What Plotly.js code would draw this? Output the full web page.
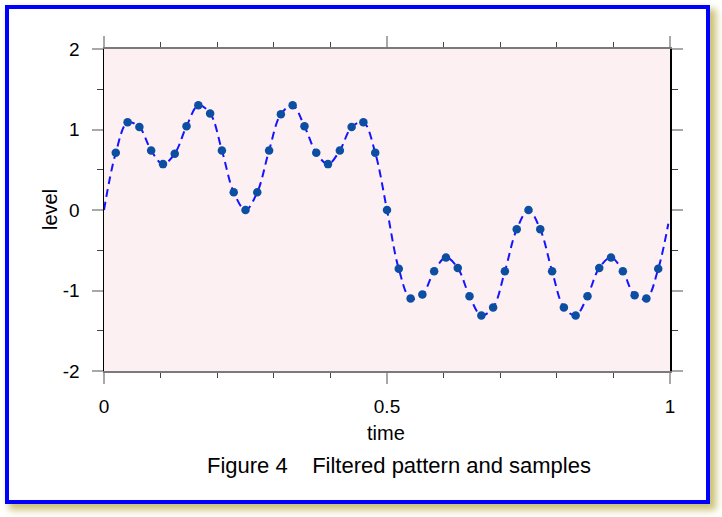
<!DOCTYPE html>
<html>
<head>
<meta charset="utf-8">
<script src="https://cdn.plot.ly/plotly-3.0.1.min.js"></script>
<style>
  html, body { margin: 0; padding: 0; width: 722px; height: 517px; background: #ffffff; overflow: hidden; }
  #frame { position: absolute; left: 5px; top: 5px; width: 697px; height: 491px;
           border: 4px solid #0000ff; background: #ffffff;
           box-shadow: 5px 5px 7px 1px rgba(200,190,110,0.95); }
  #chart { position: absolute; left: 0; top: 0; width: 722px; height: 517px; }
</style>
</head>
<body>
<div id="frame"></div>
<div id="chart"></div>
<script>
// Sample instants (time) and sampled levels
const sample_time = [0.0208, 0.0417, 0.0625, 0.0833, 0.1042, 0.125, 0.1458, 0.1667, 0.1875, 0.2083,
  0.2292, 0.25, 0.2708, 0.2917, 0.3125, 0.3333, 0.3542, 0.375, 0.3958, 0.4167,
  0.4375, 0.4583, 0.4792, 0.5, 0.5208, 0.5417, 0.5625, 0.5833, 0.6042, 0.625,
  0.6458, 0.6667, 0.6875, 0.7083, 0.7292, 0.75, 0.7708, 0.7917, 0.8125, 0.8333,
  0.8542, 0.875, 0.8958, 0.9167, 0.9375, 0.9583, 0.9792];
const sample_level = [0.71, 1.09, 1.03, 0.74, 0.57, 0.70, 1.04, 1.30, 1.20, 0.74,
  0.22, 0.00, 0.22, 0.74, 1.19, 1.30, 1.04, 0.71, 0.57, 0.74,
  1.03, 1.09, 0.71, 0.00, -0.73, -1.10, -1.05, -0.76, -0.59, -0.72,
  -1.07, -1.31, -1.21, -0.76, -0.24, 0.00, -0.24, -0.76, -1.21, -1.31,
  -1.07, -0.72, -0.59, -0.76, -1.06, -1.10, -0.73];
// Filtered pattern: end points
const curve_start = [0.0, 0.0];
const curve_end = [0.997, -0.17];

const x_tickvals = [0, 0.5, 1];
const x_ticktext = ['0', '0.5', '1'];
const y_tickvals = [-2, -1, 0, 1, 2];
const y_ticktext = ['-2', '-1', '0', '1', '2'];

const x_title = 'time';
const y_title = 'level';
const caption = 'Figure 4\u00a0\u00a0\u00a0\u00a0Filtered pattern and samples';

const curve_time = [curve_start[0]].concat(sample_time, [curve_end[0]]);
const curve_level = [curve_start[1]].concat(sample_level, [curve_end[1]]);

const font = 'Liberation Sans, Arial, Helvetica, sans-serif';

const traces = [
  {
    x: curve_time, y: curve_level, type: 'scatter', mode: 'lines',
    line: { color: '#1414ff', width: 2, dash: '8px,5px', shape: 'spline', smoothing: 1.0 },
    hoverinfo: 'skip', showlegend: false
  },
  {
    x: sample_time, y: sample_level, type: 'scatter', mode: 'markers',
    marker: { color: '#0b4ea2', size: 8.5 },
    showlegend: false
  }
];

const layout = {
  width: 722, height: 517,
  margin: { l: 104, r: 52, t: 49, b: 146, pad: 0 },
  paper_bgcolor: 'rgba(0,0,0,0)',
  plot_bgcolor: '#fdf0f2',
  font: { family: font, color: '#000' },
  showlegend: false,
  xaxis: {
    range: [0, 1], tickmode: 'array', tickvals: x_tickvals, ticktext: x_ticktext,
    ticks: 'outside', ticklen: 11, tickwidth: 2, tickcolor: '#a8a8a8',
    ticklabelstandoff: 6,
    showline: true, linecolor: '#7a7a7a', linewidth: 2, mirror: 'allticks',
    showgrid: false, zeroline: false, automargin: false,
    minor: { dtick: 0.1, ticks: 'outside', ticklen: 5, tickwidth: 1, tickcolor: '#444', showgrid: false },
    tickfont: { size: 19, family: font, color: '#000' }
  },
  yaxis: {
    range: [-2, 2], tickmode: 'array', tickvals: y_tickvals, ticktext: y_ticktext,
    ticks: 'outside', ticklen: 11, tickwidth: 2, tickcolor: '#a8a8a8',
    ticklabelstandoff: 8,
    showline: true, linecolor: '#000', linewidth: 1.5, mirror: 'allticks',
    showgrid: false, zeroline: false, automargin: false,
    minor: { dtick: 0.5, ticks: 'outside', ticklen: 6, tickwidth: 1, tickcolor: '#444', showgrid: false },
    tickfont: { size: 19, family: font, color: '#000' }
  },
  annotations: [
    {
      text: x_title, xref: 'paper', yref: 'paper', x: 0.498, y: -0.1925,
      xanchor: 'center', yanchor: 'middle', showarrow: false,
      font: { size: 20, family: font, color: '#000' }
    },
    {
      text: y_title, xref: 'paper', yref: 'paper', x: -0.0954, y: 0.5, textangle: -90,
      xanchor: 'center', yanchor: 'middle', showarrow: false,
      font: { size: 20, family: font, color: '#000' }
    },
    {
      text: caption,
      xref: 'paper', yref: 'paper', x: 0.522, y: -0.292,
      xanchor: 'center', yanchor: 'middle', showarrow: false,
      font: { size: 22, family: font, color: '#000' }
    }
  ]
};

Plotly.newPlot('chart', traces, layout, { displayModeBar: false, staticPlot: true });
</script>
</body>
</html>
